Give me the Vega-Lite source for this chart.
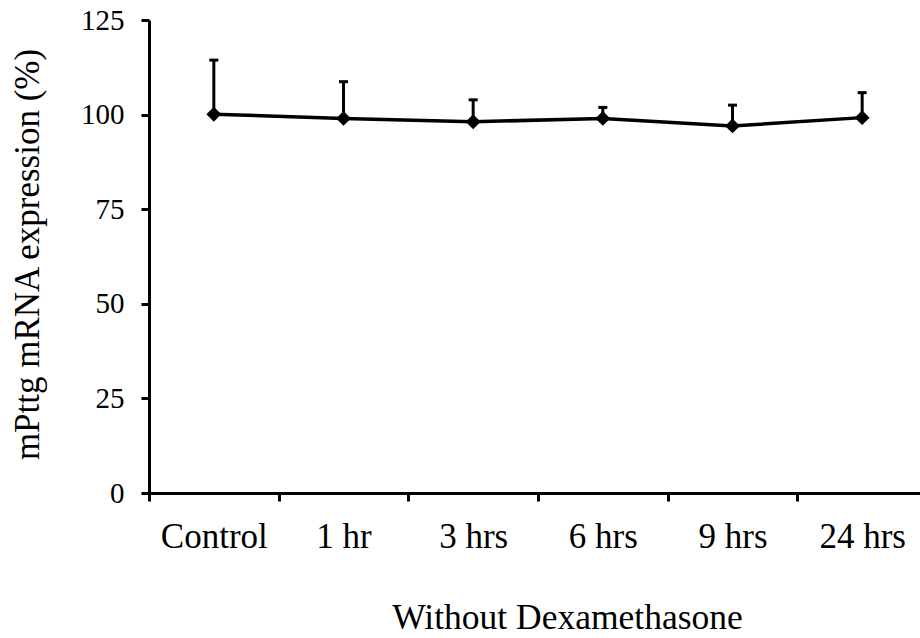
{
  "$schema": "https://vega.github.io/schema/vega-lite/v6.json",
  "width": 778,
  "height": 473,
  "autosize": {"type": "none"},
  "padding": {"left": 149, "top": 20, "right": 0, "bottom": 145},
  "background": "white",
  "config": {
    "view": {"stroke": null},
    "font": "Liberation Serif",
    "axis": {
      "domainColor": "black",
      "domainWidth": 3,
      "tickColor": "black",
      "tickWidth": 3,
      "tickSize": 8,
      "grid": false,
      "labelFont": "Liberation Serif",
      "titleFont": "Liberation Serif",
      "labelColor": "black",
      "titleColor": "black",
      "titleFontWeight": "normal"
    },
    "axisY": {"labelFontSize": 29, "titleFontSize": 35, "labelPadding": 17, "titlePadding": 35},
    "axisX": {"labelFontSize": 35, "titleFontSize": 35.5, "labelPadding": 18, "titlePadding": 46, "labelAngle": 0, "tickBand": "extent"}
  },
  "data": {
    "values": [
      {"group": "Control", "mean": 100.1, "upper": 114.4},
      {"group": "1 hr", "mean": 99.0, "upper": 108.7},
      {"group": "3 hrs", "mean": 98.1, "upper": 103.9},
      {"group": "6 hrs", "mean": 99.0, "upper": 101.9},
      {"group": "9 hrs", "mean": 97.0, "upper": 102.5},
      {"group": "24 hrs", "mean": 99.2, "upper": 105.8}
    ]
  },
  "encoding": {
    "x": {
      "field": "group",
      "type": "nominal",
      "sort": null,
      "scale": {"type": "band", "paddingInner": 0, "paddingOuter": 0},
      "axis": {"title": "Without Dexamethasone", "titleX": 418}
    }
  },
  "layer": [
    {
      "mark": {"type": "rule", "strokeWidth": 3, "color": "black"},
      "encoding": {
        "y": {"field": "mean", "type": "quantitative", "title": "mPttg mRNA expression (%)", "scale": {"domain": [0, 125], "nice": false, "zero": true}, "axis": {"values": [0, 25, 50, 75, 100, 125], "titleY": 234}},
        "y2": {"field": "upper"}
      }
    },
    {
      "mark": {"type": "tick", "orient": "horizontal", "size": 9, "thickness": 3, "color": "black", "opacity": 1},
      "encoding": {
        "y": {"field": "upper", "type": "quantitative", "title": "mPttg mRNA expression (%)", "scale": {"domain": [0, 125], "nice": false}, "axis": {"values": [0, 25, 50, 75, 100, 125], "titleY": 234}}
      }
    },
    {
      "mark": {"type": "line", "strokeWidth": 3.5, "color": "black"},
      "encoding": {
        "y": {"field": "mean", "type": "quantitative", "title": "mPttg mRNA expression (%)", "scale": {"domain": [0, 125], "nice": false}, "axis": {"values": [0, 25, 50, 75, 100, 125], "titleY": 234}}
      }
    },
    {
      "mark": {"type": "point", "shape": "diamond", "filled": true, "size": 220, "color": "black", "opacity": 1},
      "encoding": {
        "y": {"field": "mean", "type": "quantitative", "title": "mPttg mRNA expression (%)", "scale": {"domain": [0, 125], "nice": false}, "axis": {"values": [0, 25, 50, 75, 100, 125], "titleY": 234}}
      }
    }
  ]
}
